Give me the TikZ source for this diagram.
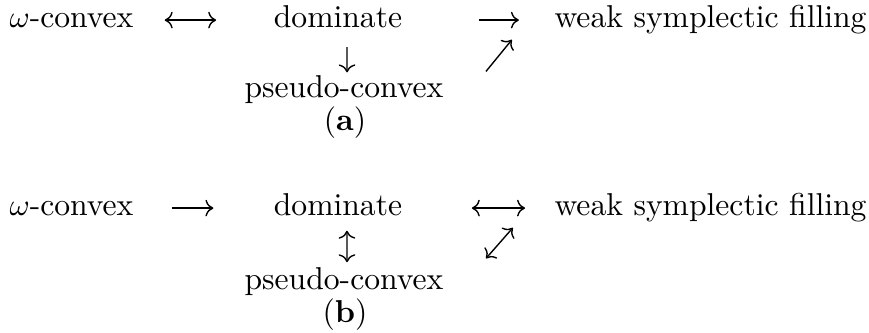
\documentclass[tikz,border=0pt]{standalone}
\usepackage{amsmath,amssymb}
\usepackage{tikz}
\usetikzlibrary{arrows.meta}

\begin{document}
\begin{tikzpicture}[x=0.3257pt,y=-0.3257pt,font=\fontsize{10.3pt}{12.4pt}\selectfont,
  txt/.style={inner sep=0pt,anchor=base,text height=7.15pt,text depth=2pt},
  lbl/.style={inner sep=0pt,anchor=base},
  arr/.style={-{To},line width=0.45pt},
  barr/.style={{To}-{To},line width=0.45pt}]
\useasboundingbox (0,0) rectangle (869,333);
% (a)
\node[txt] (w1) at (71.5,28) {$\omega$-convex};
\node[txt] (d1) at (338,28) {dominate};
\node[txt] (f1) at (710.5,28) {weak symplectic filling};
\node[txt] (p1) at (344,98) {pseudo-convex};
\node[lbl] (a1) at (345,131) {(\textbf{a})};
\draw[barr,shorten <=10pt,shorten >=18.6pt] (w1) -- (d1);
\draw[arr,shorten <=24.7pt,shorten >=11.4pt] (d1) -- (f1);
\draw[arr,shorten <=4pt,shorten >=1pt] ([xshift=2.9pt]d1.south) -- ([xshift=1pt]p1.north);
\draw[arr] ([shift={(42,-4)}]p1.north east) -- ([shift={(-42,5)}]f1.south west);
% (b)
\node[txt] (w2) at (71.5,216) {$\omega$-convex};
\node[txt] (d2) at (338,216) {dominate};
\node[txt] (f2) at (710.5,216) {weak symplectic filling};
\node[txt] (p2) at (344,290) {pseudo-convex};
\node[lbl] (b2) at (345,322) {(\textbf{b})};
\draw[arr,shorten <=12.3pt,shorten >=19.5pt] (w2) -- (d2);
\draw[barr,shorten <=22.5pt,shorten >=9.4pt] (d2) -- (f2);
\draw[barr,shorten <=2.6pt,shorten >=1.7pt] ([xshift=2.9pt]d2.south) -- ([xshift=1pt]p2.north);
\draw[barr] ([shift={(42,-9)}]p2.north east) -- ([shift={(-41,5)}]f2.south west);
\end{tikzpicture}
\end{document}
